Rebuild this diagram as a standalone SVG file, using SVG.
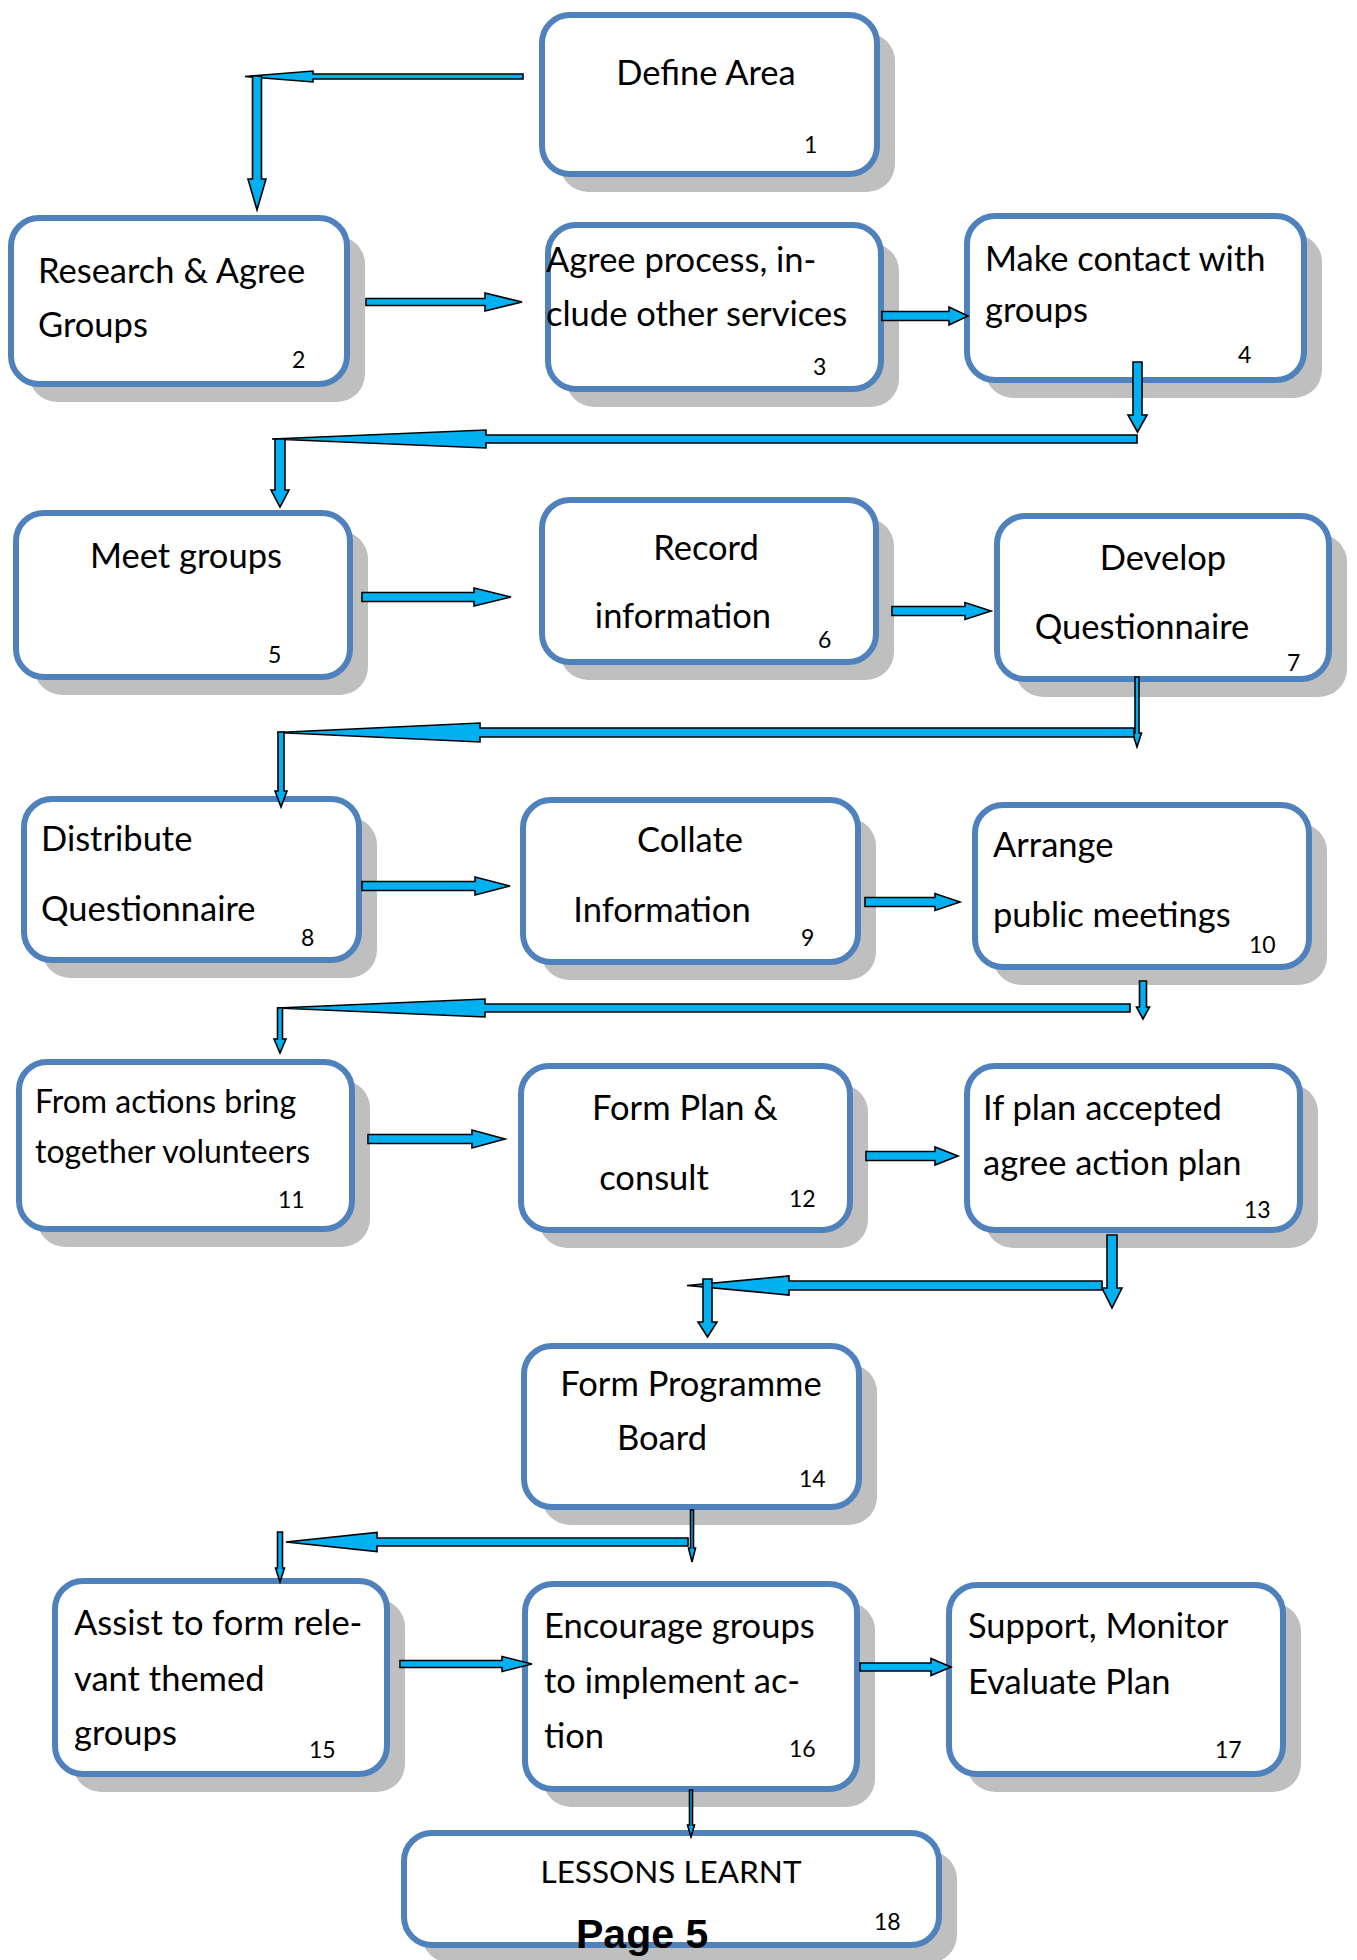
<svg xmlns="http://www.w3.org/2000/svg" width="1357" height="1960" viewBox="0 0 1357 1960">
<style>
.bg{fill:#ffffff}
.sh{fill:#bfbfbf}
.bx{fill:#ffffff;stroke:#4f81bd;stroke-width:6}
.t{font-family:Lato,"Liberation Sans",sans-serif;font-size:34.5px;fill:#000}
.s{font-size:32px}
.s2{font-size:31.5px}
.c{text-anchor:middle}
.n{font-family:Lato,"Liberation Sans",sans-serif;font-size:23px;fill:#000}
.ar{fill:#00b0f0;stroke:#000;stroke-width:1.6;stroke-linejoin:miter}
.pg{font-family:"Liberation Sans",Arial,sans-serif;font-size:41px;font-weight:bold;fill:#000}
</style>
<rect class="bg" width="1357" height="1960"/>
<g id="nodes">
<g id="n1"><rect class="sh" x="560" y="33" width="335" height="159" rx="28"/><rect class="bx" x="542" y="15" width="335" height="159" rx="28"/><text class="t c" x="706" y="85">Define Area</text><text class="n" x="804" y="153">1</text></g>
<g id="n2"><rect class="sh" x="29" y="236" width="336" height="166" rx="28"/><rect class="bx" x="11" y="218" width="336" height="166" rx="28"/><text class="t" x="38" y="283">Research &amp; Agree</text><text class="t" x="38" y="337">Groups</text><text class="n" x="292" y="368">2</text></g>
<g id="n3"><rect class="sh" x="566" y="243" width="333" height="164" rx="28"/><rect class="bx" x="548" y="225" width="333" height="164" rx="28"/><text class="t" x="546" y="272">Agree process, in-</text><text class="t" x="546" y="326">clude other services</text><text class="n" x="813" y="375">3</text></g>
<g id="n4"><rect class="sh" x="985" y="234" width="337" height="164" rx="28"/><rect class="bx" x="967" y="216" width="337" height="164" rx="28"/><text class="t" x="985" y="271">Make contact with</text><text class="t" x="985" y="322">groups</text><text class="n" x="1238" y="363">4</text></g>
<g id="n5"><rect class="sh" x="34" y="531" width="334" height="164" rx="28"/><rect class="bx" x="16" y="513" width="334" height="164" rx="28"/><text class="t c" x="186" y="568">Meet groups</text><text class="n" x="268" y="663">5</text></g>
<g id="n6"><rect class="sh" x="560" y="518" width="334" height="162" rx="28"/><rect class="bx" x="542" y="500" width="334" height="162" rx="28"/><text class="t c" x="706" y="560">Record</text><text class="t c" x="683" y="628">information</text><text class="n" x="818" y="648">6</text></g>
<g id="n7"><rect class="sh" x="1015" y="534" width="332" height="163" rx="28"/><rect class="bx" x="997" y="516" width="332" height="163" rx="28"/><text class="t c" x="1163" y="570">Develop</text><text class="t c" x="1142" y="639">Questionnaire</text><text class="n" x="1287" y="671">7</text></g>
<g id="n8"><rect class="sh" x="42" y="817" width="335" height="161" rx="28"/><rect class="bx" x="24" y="799" width="335" height="161" rx="28"/><text class="t" x="41" y="851">Distribute</text><text class="t" x="41" y="921">Questionnaire</text><text class="n" x="301" y="946">8</text></g>
<g id="n9"><rect class="sh" x="541" y="818" width="335" height="162" rx="28"/><rect class="bx" x="523" y="800" width="335" height="162" rx="28"/><text class="t c" x="690" y="852">Collate</text><text class="t c" x="662" y="922">Information</text><text class="n" x="801" y="946">9</text></g>
<g id="n10"><rect class="sh" x="993" y="823" width="334" height="162" rx="28"/><rect class="bx" x="975" y="805" width="334" height="162" rx="28"/><text class="t" x="993" y="857">Arrange</text><text class="t" x="993" y="927">public meetings</text><text class="n" x="1249" y="953">10</text></g>
<g id="n11"><rect class="sh" x="37" y="1080" width="333" height="167" rx="28"/><rect class="bx" x="19" y="1062" width="333" height="167" rx="28"/><text class="t s" x="35" y="1113">From actions bring</text><text class="t s" x="35" y="1163">together volunteers</text><text class="n" x="278" y="1208">11</text></g>
<g id="n12"><rect class="sh" x="539" y="1084" width="329" height="164" rx="28"/><rect class="bx" x="521" y="1066" width="329" height="164" rx="28"/><text class="t c" x="685" y="1120">Form Plan &amp;</text><text class="t c" x="654" y="1190">consult</text><text class="n" x="789" y="1207">12</text></g>
<g id="n13"><rect class="sh" x="985" y="1084" width="333" height="164" rx="28"/><rect class="bx" x="967" y="1066" width="333" height="164" rx="28"/><text class="t" x="983" y="1120">If plan accepted</text><text class="t" x="983" y="1175">agree action plan</text><text class="n" x="1244" y="1218">13</text></g>
<g id="n14"><rect class="sh" x="542" y="1364" width="335" height="161" rx="28"/><rect class="bx" x="524" y="1346" width="335" height="161" rx="28"/><text class="t c" x="691" y="1396">Form Programme</text><text class="t c" x="662" y="1450">Board</text><text class="n" x="799" y="1487">14</text></g>
<g id="n15"><rect class="sh" x="73" y="1599" width="332" height="193" rx="28"/><rect class="bx" x="55" y="1581" width="332" height="193" rx="28"/><text class="t" x="74" y="1635">Assist to form rele-</text><text class="t" x="74" y="1691">vant themed</text><text class="t" x="74" y="1745">groups</text><text class="n" x="309" y="1758">15</text></g>
<g id="n16"><rect class="sh" x="543" y="1602" width="332" height="205" rx="28"/><rect class="bx" x="525" y="1584" width="332" height="205" rx="28"/><text class="t" x="544" y="1638">Encourage groups</text><text class="t" x="544" y="1693">to implement ac-</text><text class="t" x="544" y="1748">tion</text><text class="n" x="789" y="1757">16</text></g>
<g id="n17"><rect class="sh" x="967" y="1603" width="334" height="189" rx="28"/><rect class="bx" x="949" y="1585" width="334" height="189" rx="28"/><text class="t" x="968" y="1638">Support, Monitor</text><text class="t" x="968" y="1694">Evaluate Plan</text><text class="n" x="1215" y="1758">17</text></g>
<g id="n18"><rect class="sh" x="422" y="1851" width="535" height="112" rx="28"/><rect class="bx" x="404" y="1833" width="535" height="112" rx="28"/><text class="t s2 c" x="671" y="1883">LESSONS LEARNT</text><text class="n" x="874" y="1930">18</text></g>
</g>
<g id="connectors">
<path class="ar" d="M523,74 L313,74 L313,71 L245,76.5 L313,82 L313,79 L523,79 Z"/>
<path class="ar" d="M252.5,76 L261.5,76 L261.5,179 L266,179 L257,210 L248,179 L252.5,179 Z"/>
<path class="ar" d="M366,298.5 L485,298.5 L485,293 L522,302 L485,311 L485,305.5 L366,305.5 Z"/>
<path class="ar" d="M882,311.5 L949,311.5 L949,307 L968,316 L949,325 L949,320.5 L882,320.5 Z"/>
<path class="ar" d="M1133,362 L1142,362 L1142,415 L1147,415 L1137.5,432 L1128,415 L1133,415 Z"/>
<path class="ar" d="M1137,435 L486,435 L486,430 L272,439 L486,448 L486,443 L1137,443 Z"/>
<path class="ar" d="M275,439 L285,439 L285,490 L289,490 L280,507 L271,490 L275,490 Z"/>
<path class="ar" d="M362,592.5 L474,592.5 L474,588 L511,597 L474,606 L474,601.5 L362,601.5 Z"/>
<path class="ar" d="M892,606.5 L965,606.5 L965,602.5 L991,611 L965,619.5 L965,615.5 L892,615.5 Z"/>
<path class="ar" d="M1135,677 L1139,677 L1139,733 L1141.5,733 L1137,747 L1132.5,733 L1135,733 Z"/>
<path class="ar" d="M1134,728 L480,728 L480,723 L277,732.5 L480,742 L480,737 L1134,737 Z"/>
<path class="ar" d="M278,732 L284,732 L284,791 L287,791 L281,807 L275,791 L278,791 Z"/>
<path class="ar" d="M362,881.5 L475,881.5 L475,877 L510,886 L475,895 L475,890.5 L362,890.5 Z"/>
<path class="ar" d="M865,897.5 L935,897.5 L935,893.5 L960,902 L935,910.5 L935,906.5 L865,906.5 Z"/>
<path class="ar" d="M1139.5,981 L1146.5,981 L1146.5,1007 L1149.5,1007 L1143,1019 L1136.5,1007 L1139.5,1007 Z"/>
<path class="ar" d="M1130,1004 L485,1004 L485,999 L277,1008 L485,1017 L485,1012 L1130,1012 Z"/>
<path class="ar" d="M277.5,1008 L282.5,1008 L282.5,1039 L286,1039 L280,1053 L274,1039 L277.5,1039 Z"/>
<path class="ar" d="M368,1134.5 L472,1134.5 L472,1130 L505,1139 L472,1148 L472,1143.5 L368,1143.5 Z"/>
<path class="ar" d="M866,1151.5 L935,1151.5 L935,1147 L958,1156 L935,1165 L935,1160.5 L866,1160.5 Z"/>
<path class="ar" d="M1107,1235 L1117,1235 L1117,1288 L1122,1288 L1112,1308 L1102,1288 L1107,1288 Z"/>
<path class="ar" d="M1102,1281 L789,1281 L789,1276 L687,1285.5 L789,1295 L789,1290 L1102,1290 Z"/>
<path class="ar" d="M703,1279 L712,1279 L712,1322 L717,1322 L707.5,1337 L698,1322 L703,1322 Z"/>
<path class="ar" d="M690.5,1510 L693.5,1510 L693.5,1548 L695.5,1548 L692,1562 L688.5,1548 L690.5,1548 Z"/>
<path class="ar" d="M688,1538 L377,1538 L377,1532.5 L286,1542 L377,1551.5 L377,1546 L688,1546 Z"/>
<path class="ar" d="M277.5,1532 L282.5,1532 L282.5,1568 L284.5,1568 L280,1582 L275.5,1568 L277.5,1568 Z"/>
<path class="ar" d="M400,1660.5 L502,1660.5 L502,1656.5 L532,1664 L502,1671.5 L502,1667.5 L400,1667.5 Z"/>
<path class="ar" d="M860,1663 L931,1663 L931,1658.5 L951,1667 L931,1675.5 L931,1671 L860,1671 Z"/>
<path class="ar" d="M689.5,1790 L692.5,1790 L692.5,1825 L694.5,1825 L691,1837 L687.5,1825 L689.5,1825 Z"/>
</g>
<text class="pg" x="576" y="1948">Page 5</text>
</svg>
